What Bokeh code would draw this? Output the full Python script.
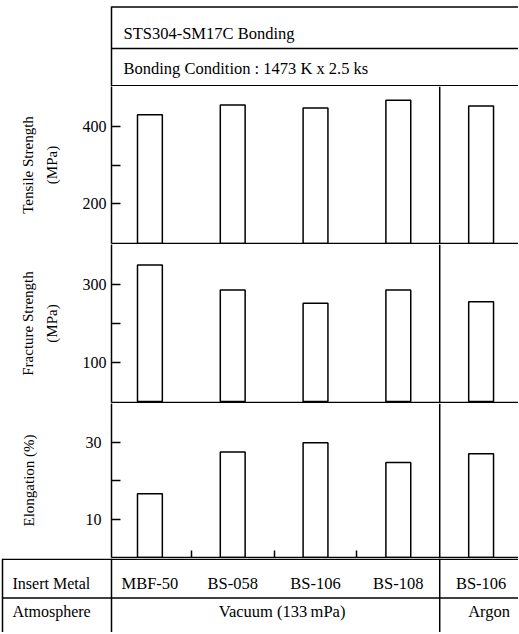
from bokeh.plotting import figure
from bokeh.layouts import column
from bokeh.models import Range1d, FixedTicker, LinearAxis, Span, ColumnDataSource
from bokeh.embed import file_html
from bokeh.resources import INLINE
from bokeh.core.properties import value

# ---------------- data ----------------
insert_metals = ["MBF-50", "BS-058", "BS-106", "BS-108", "BS-106"]
atmospheres = ["Vacuum (133\u2009mPa)"] * 4 + ["Argon"]
tensile_strength = [430, 455, 447, 467, 452]      # MPa
fracture_strength = [350, 286, 252, 286, 256]     # MPa
elongation = [16.7, 27.4, 29.8, 24.7, 27.0]       # %

title_text = "STS304-SM17C Bonding"
condition_text = "Bonding Condition : 1473 K x 2.5 ks"
row_label_metal = "Insert Metal"
row_label_atm = "Atmosphere"

tensile_ticks, tensile_minor = [200, 400], [300]
fracture_ticks, fracture_minor = [100, 300], [200]
elong_ticks, elong_minor = [10, 30], [20]

# ---------------- layout constants ----------------
FONT = "Liberation Serif"
W = 518
LEFT = 111
PX = 82.8                      # pixels per category step
X0 = -0.464
X1 = X0 + (W - LEFT) / PX
XF0 = X0 - LEFT / PX
H_HEAD, H1, H2, H3, H_FOOT = 86, 158, 159, 155, 74
LW = 1.5

idx = list(range(len(insert_metals)))
# boundary between atmosphere groups
sep = [i - 0.5 for i in range(1, len(atmospheres)) if atmospheres[i] != atmospheres[i - 1]]


def base_fig(h, xr, yr, left=0, bottom=0):
    p = figure(width=W, height=h, x_range=xr, y_range=yr, output_backend="svg",
               toolbar_location=None, min_border_left=left, min_border_right=0,
               min_border_top=0, min_border_bottom=bottom)
    p.outline_line_color = None
    p.xgrid.visible = False
    p.ygrid.visible = False
    p.background_fill_color = "white"
    p.border_fill_color = "white"
    return p


def panel(h, vals, yr, ticks, minor, inner_label, outer_label,
          lbl_standoff, inner_standoff, outer_standoff, bottom_ticks):
    p = base_fig(h, Range1d(X0, X1), Range1d(*yr), left=LEFT, bottom=1)
    xa = p.xaxis[0]
    xa.ticker = FixedTicker(ticks=[], minor_ticks=bottom_ticks)
    xa.major_tick_in = 0
    xa.major_tick_out = 0
    xa.minor_tick_in = 7
    xa.minor_tick_out = 0
    xa.major_label_text_font_size = "0px"
    xa.major_label_standoff = 0
    xa.axis_line_color = "black"
    xa.axis_line_width = LW
    xa.minor_tick_line_color = "black"
    xa.minor_tick_line_width = LW

    ya = p.yaxis[0]
    ya.ticker = FixedTicker(ticks=ticks, minor_ticks=minor)
    ya.major_tick_in = 9
    ya.major_tick_out = 0
    ya.minor_tick_in = 9
    ya.minor_tick_out = 0
    ya.axis_line_width = LW
    ya.major_tick_line_width = LW
    ya.minor_tick_line_color = "black"
    ya.minor_tick_line_width = LW
    ya.major_label_standoff = lbl_standoff
    ya.major_label_text_font = FONT
    ya.major_label_text_font_size = "16px"
    ya.major_label_text_color = "black"
    ya.axis_label = inner_label
    ya.axis_label_standoff = inner_standoff
    ya.axis_label_text_font = FONT
    ya.axis_label_text_font_size = "15px"
    ya.axis_label_text_font_style = "normal"
    ya.axis_label_text_color = "black"

    if outer_label:
        outer = LinearAxis(ticker=FixedTicker(ticks=[]), axis_line_color=None,
                           major_tick_line_color=None, minor_tick_line_color=None,
                           major_tick_out=0, minor_tick_out=0, major_label_standoff=0,
                           major_label_text_font_size="0px",
                           axis_label=outer_label, axis_label_standoff=outer_standoff,
                           axis_label_text_font=FONT, axis_label_text_font_size="15px",
                           axis_label_text_font_style="normal", axis_label_text_color="black")
        p.add_layout(outer, "left")

    src = ColumnDataSource(dict(x=idx, top=vals))
    p.vbar(x="x", top="top", bottom=0, width=0.30, source=src,
           fill_color="white", line_color="black", line_width=LW)
    for s in sep:
        p.add_layout(Span(location=s, dimension="height", line_color="black", line_width=LW))
    return p


# ---------------- header ----------------
head = base_fig(H_HEAD, Range1d(XF0, X1), Range1d(H_HEAD, 0))
head.xaxis.visible = False
head.yaxis.visible = False
head.segment(x0=[X0, X0, X0, X0], y0=[6.5, 48, H_HEAD - 0.75, 6],
             x1=[X1, X1, X1, X0], y1=[6.5, 48, H_HEAD - 0.75, H_HEAD],
             line_color="black", line_width=LW)
head.text(x=[X0 + 12 / PX, X0 + 12 / PX], y=[33, 67.5], text=[title_text, condition_text],
          text_align="left", text_baseline="middle", text_font=value(FONT),
          text_font_size="16.5px", text_color="black")

# ---------------- panels ----------------
p1 = panel(H1, tensile_strength, (97.4, 502.6), tensile_ticks, tensile_minor,
           "(MPa)", "Tensile Strength", 5, 20, 5, [])
p2 = panel(H2, fracture_strength, (-2.8, 402.8), fracture_ticks, fracture_minor,
           "(MPa)", "Fracture Strength", 5, 20, 5, [])
p3 = panel(H3, elongation, (0.3, 39.9), elong_ticks, elong_minor,
           "Elongation (%)", None, 10, 46, 0, [0.5, 1.5, 2.5])

# ---------------- footer ----------------
foot = base_fig(H_FOOT, Range1d(XF0, X1), Range1d(H_FOOT, 0))
foot.xaxis.visible = False
foot.yaxis.visible = False
foot.segment(x0=[XF0 + 2 / PX, XF0 + 2 / PX], y0=[0.75, 39.5], x1=[X1, X1], y1=[0.75, 39.5],
             line_color="black", line_width=LW)
vx = [XF0 + 2 / PX, X0] + sep
foot.segment(x0=vx, y0=[0] * len(vx), x1=vx, y1=[H_FOOT] * len(vx),
             line_color="black", line_width=LW)
foot.text(x=idx, y=[24.5] * len(idx), text=insert_metals, text_align="center",
          text_baseline="middle", text_font=value(FONT), text_font_size="16.5px",
          text_color="black")
foot.text(x=[XF0 + 12 / PX, XF0 + 12 / PX], y=[24.5, 53], text=[row_label_metal, row_label_atm],
          text_align="left", text_baseline="middle", text_font=value(FONT),
          text_font_size="16px", text_color="black")
# atmosphere groups: centred over their categories
groups = []
for i, a in enumerate(atmospheres):
    if not groups or groups[-1][0] != a:
        groups.append([a, []])
    groups[-1][1].append(i)
foot.text(x=[sum(g[1]) / len(g[1]) for g in groups], y=[53] * len(groups),
          text=[g[0] for g in groups], x_offset=8, text_align="center",
          text_baseline="middle", text_font=value(FONT), text_font_size="16.5px",
          text_color="black")

layout = column(head, column(p1, p2, p3, spacing=0), foot, spacing=0)
open("out.html", "w").write(file_html(layout, INLINE))
